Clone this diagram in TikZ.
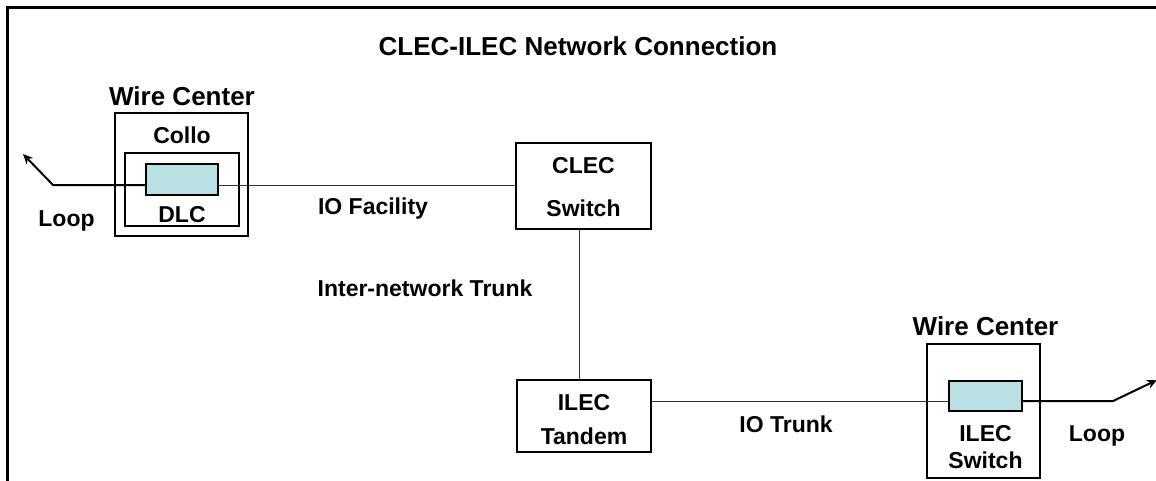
\documentclass[tikz,border=0pt]{standalone}
\usepackage{fontspec}
\setmainfont{Liberation Sans}
\usetikzlibrary{arrows.meta}
\definecolor{dlccyan}{RGB}{185,224,226}
\tikzset{
  box/.style={draw=black, line width=1.2pt, inner sep=0pt},
  cyanbox/.style={draw=black, line width=1.2pt, fill=dlccyan, inner sep=0pt},
  lbl/.style={font=\bfseries\fontsize{23}{25}\selectfont, inner sep=0pt, anchor=base},
  ttl/.style={font=\bfseries\fontsize{26}{28}\selectfont, inner sep=0pt, anchor=base},
  wire/.style={line width=0.9pt, draw=black!80},
  loopwire/.style={line width=2pt, -{Stealth[length=10pt,width=9pt]}},
  frame/.style={line width=3pt, line cap=rect}
}
\begin{document}
\begin{tikzpicture}[x=1pt,y=-1pt]
\useasboundingbox (0,0) rectangle (1156,480);
% frame
\coordinate (fA) at (7.5,482);
\coordinate (fB) at (7.5,7.5);
\coordinate (fC) at (1160,7.5);
\draw[frame] (fA) -- (fB) -- (fC);
% title
\node[ttl] (title) at (578,55) {CLEC-ILEC Network Connection};
% left wire center
\node[ttl] (wc1lbl) at (182,105) {Wire Center};
\node[box, minimum width=133pt, minimum height=123pt] (wc1) at (181.5,174.5) {};
\node[lbl] (collo) at (182,143) {Collo};
\node[box, minimum width=114pt, minimum height=73pt] (inner) at (182,189.5) {};
\node[cyanbox, minimum width=72pt, minimum height=31pt] (dlc) at (182,179.5) {};
\node[lbl] (dlclbl) at (182,222) {DLC};
\coordinate (lbend) at (53,185);
\coordinate (ltip) at (23,154);
\draw[loopwire] (dlc.west |- lbend) -- (lbend) -- (ltip);
\node[lbl] (loop1) at (66.5,226) {Loop};
% CLEC switch
\node[box, minimum width=135pt, minimum height=86pt] (clec) at (583.5,186) {};
\node[lbl] (clec1) at (583.5,173) {CLEC};
\node[lbl] (clec2) at (583.5,216) {Switch};
\draw[wire] (dlc.east |- lbend) -- (clec.west |- lbend);
\node[lbl] (iofac) at (373,214) {IO Facility};
% ILEC tandem
\node[box, minimum width=134pt, minimum height=72pt] (tandem) at (584,416) {};
\node[lbl] (tan1) at (584,410) {ILEC};
\node[lbl] (tan2) at (584,444) {Tandem};
\coordinate (vx) at (579,0);
\draw[wire] (clec.south -| vx) -- (tandem.north -| vx);
\node[lbl] (inter) at (425,296) {Inter-network Trunk};
% right wire center
\node[ttl] (wc2lbl) at (985.5,335) {Wire Center};
\node[box, minimum width=113pt, minimum height=134pt] (wc2) at (983.5,411) {};
\node[cyanbox, minimum width=73pt, minimum height=30pt] (isw) at (985.5,396) {};
\node[lbl] (isw1) at (985.5,441) {ILEC};
\node[lbl] (isw2) at (985.5,468) {Switch};
\coordinate (rline) at (0,401);
\draw[wire] (tandem.east |- rline) -- (isw.west |- rline);
\node[lbl] (iotrunk) at (786,432) {IO Trunk};
\coordinate (rbend) at (1113,401);
\coordinate (rtip) at (1157,380);
\draw[loopwire] (isw.east |- rline) -- (rbend) -- (rtip);
\node[lbl] (loop2) at (1097,441) {Loop};
\end{tikzpicture}
\end{document}
